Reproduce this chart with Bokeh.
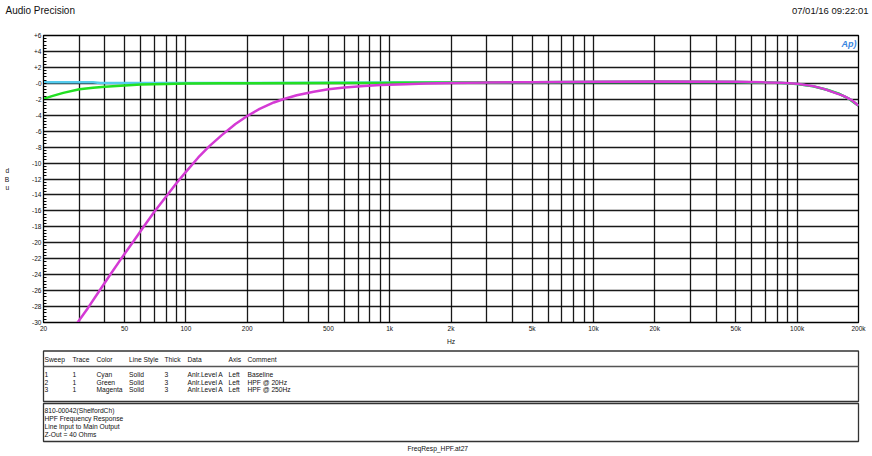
import numpy as np
from bokeh.plotting import figure
from bokeh.models import Range1d, FixedTicker, Label
from bokeh.layouts import column
from bokeh.embed import file_html
from bokeh.resources import INLINE
from bokeh.core.properties import value

FONT = "Liberation Sans"

# ---------------- data ----------------
cyan_freq = [20, 25, 30, 35, 38, 50, 100, 200, 500, 1000, 2000, 5000, 10000, 20000,
             50000, 70000, 85000, 100000, 120000, 140000, 160000, 180000, 200000]
cyan_db = [0.15, 0.15, 0.15, 0.14, 0.05, 0.04, 0.04, 0.05, 0.07, 0.09, 0.12, 0.15, 0.18, 0.2,
           0.18, 0.11, 0.05, -0.07, -0.38, -0.8, -1.3, -1.95, -2.8]

green_freq = [20, 22, 25, 30, 35, 40, 50, 60, 80, 100, 150, 200, 500, 1000, 2000, 5000,
              10000, 20000, 50000, 70000, 85000, 100000, 120000, 140000, 160000, 180000, 200000]
green_db = [-1.95, -1.6, -1.2, -0.75, -0.55, -0.42, -0.27, -0.16, -0.08, -0.03, 0.0, 0.02,
            0.05, 0.08, 0.12, 0.15, 0.18, 0.2, 0.18, 0.11, 0.05, -0.07, -0.38, -0.8, -1.3,
            -1.95, -2.8]

magenta_freq = [29.4, 33, 37, 42, 48.7, 55, 62, 70, 80, 90, 100, 115, 130, 150, 175, 200,
                230, 270, 300, 350, 424, 500, 600, 750, 900, 1200, 1500, 2000, 3000, 5000,
                10000, 20000, 50000, 70000, 83000, 100000, 120000, 135000, 150000, 170000,
                185000, 200000]
magenta_db = [-30.0, -28.2, -26.3, -24.2, -21.8, -19.9, -18.0, -16.1, -14.2, -12.5, -11.1,
              -9.3, -7.9, -6.5, -5.1, -4.1, -3.2, -2.4, -2.0, -1.5, -1.05, -0.75, -0.53,
              -0.34, -0.2, -0.1, -0.03, 0.03, 0.1, 0.15, 0.2, 0.22, 0.2, 0.12, 0.06, -0.05,
              -0.35, -0.7, -1.1, -1.6, -2.1, -2.8]

x_ticks = [20, 50, 100, 200, 500, 1000, 2000, 5000, 10000, 20000, 50000, 100000, 200000]
x_tick_labels = ["20", "50", "100", "200", "500", "1k", "2k", "5k", "10k", "20k", "50k",
                 "100k", "200k"]
grid_freqs = [20, 30, 40, 50, 60, 70, 80, 90, 100, 200, 300, 400, 500, 600, 700, 800, 900,
              1000, 2000, 3000, 4000, 5000, 6000, 7000, 8000, 9000, 10000, 20000, 30000,
              40000, 50000, 60000, 70000, 80000, 90000, 100000, 200000]
y_ticks = [-30, -28, -26, -24, -22, -20, -18, -16, -14, -12, -10, -8, -6, -4, -2, 0, 2, 4, 6]
y_tick_labels = ["-30", "-28", "-26", "-24", "-22", "-20", "-18", "-16", "-14", "-12", "-10",
                 "-8", "-6", "-4", "-2", "-0", "+2", "+4", "+6"]
y_label = "d\nB\nu"
x_label = "Hz"

# legend table
tbl_headers = ["Sweep", "Trace", "Color", "Line Style", "Thick", "Data", "Axis", "Comment"]
tbl_sweep = ["1", "2", "3"]
tbl_trace = ["1", "1", "1"]
tbl_color = ["Cyan", "Green", "Magenta"]
tbl_style = ["Solid", "Solid", "Solid"]
tbl_thick = ["3", "3", "3"]
tbl_data = ["Anlr.Level A", "Anlr.Level A", "Anlr.Level A"]
tbl_axis = ["Left", "Left", "Left"]
tbl_comment = ["Baseline", "HPF @ 20Hz", "HPF @ 250Hz"]
notes = ["810-00042(ShelfordCh)", "HPF Frequency Response", "Line Input to Main Output",
         "Z-Out = 40 Ohms"]
footer = "FreqResp_HPF.at27"
title_text = "Audio Precision"
date_text = "07/01/16 09:22:01"

CYAN = "#55ccee"
GREEN = "#22e022"
MAGENTA = "#d43ad4"
TXT = "#111111"

W = 872
H_HEAD = 20
H_CHART = 328
H_TAB = 456 - H_HEAD - H_CHART
FL, FR, FT, FB = 43, 858, 35, 322          # plot-area edges on the page
XMIN, XMAX, YMIN, YMAX = 20, 200000, -30, 6
DEC = np.log10(XMAX / XMIN)


def no_align(fig):
    try:
        fig.frame_align = False
    except Exception:
        pass


def cx(px):
    # page x pixel -> data x (layout helper for in-frame annotation)
    return XMIN * 10 ** ((px - FL) / (FR - FL) * DEC)


def cy(py):
    # page y pixel -> data y
    return YMAX - (py - FT) / (FB - FT) * (YMAX - YMIN)


# ---------------- header ----------------
h = figure(width=W, height=H_HEAD, x_range=Range1d(0, W), y_range=Range1d(H_HEAD, 0),
           output_backend="svg", toolbar_location=None, min_border=0,
           x_axis_location=None, y_axis_location=None)
h.outline_line_color = None
h.grid.visible = False
h.background_fill_color = "white"
h.border_fill_color = "white"
no_align(h)
h.text(x=[5], y=[10], text=[title_text], text_font=value(FONT), text_font_size="10px",
       text_baseline="middle", text_align="left", text_color=TXT)
h.text(x=[868], y=[10], text=[date_text], text_font=value(FONT), text_font_size="9.5px",
       text_baseline="middle", text_align="right", text_color=TXT)

# ---------------- chart ----------------
p = figure(width=W, height=H_CHART, x_axis_type="log",
           x_range=Range1d(XMIN, XMAX), y_range=Range1d(YMIN, YMAX),
           output_backend="svg", toolbar_location=None,
           min_border_left=FL, min_border_right=W - FR,
           min_border_top=FT - H_HEAD, min_border_bottom=H_HEAD + H_CHART - FB)
p.background_fill_color = "white"
p.border_fill_color = "white"
p.outline_line_color = "black"
p.outline_line_width = 1.3
no_align(p)

p.xaxis.ticker = FixedTicker(ticks=x_ticks)
p.xaxis.major_label_overrides = dict(zip(x_ticks, x_tick_labels))
p.xaxis.major_tick_in = 0
p.xaxis.major_tick_out = 0
p.xaxis.minor_tick_in = 0
p.xaxis.minor_tick_out = 0
p.xaxis.major_label_standoff = 2
p.xaxis.axis_label = x_label
p.xaxis.axis_label_standoff = 3

minor = [round(v, 1) for v in np.arange(-30, 6.001, 0.4) if abs(v - round(v / 2) * 2) > 1e-6]
p.yaxis.ticker = FixedTicker(ticks=y_ticks, minor_ticks=minor)
p.yaxis.major_label_overrides = dict(zip(y_ticks, y_tick_labels))
p.yaxis.major_tick_in = 3
p.yaxis.major_tick_out = 0
p.yaxis.minor_tick_in = 3
p.yaxis.minor_tick_out = 0
p.yaxis.major_label_standoff = 2
p.yaxis.axis_label = y_label
p.yaxis.axis_label_orientation = "horizontal"
p.yaxis.axis_label_standoff = 20
p.yaxis.axis_label_text_line_height = 1.27

for ax in (p.xaxis[0], p.yaxis[0]):
    ax.axis_line_color = "black"
    ax.axis_line_width = 1
    ax.major_tick_line_color = "black"
    ax.minor_tick_line_color = "black"
    ax.major_label_text_font = FONT
    ax.major_label_text_font_size = "6.5px"
    ax.major_label_text_color = TXT
    ax.axis_label_text_font = FONT
    ax.axis_label_text_font_size = "6.7px"
    ax.axis_label_text_font_style = "normal"
    ax.axis_label_text_color = TXT

p.xgrid.ticker = FixedTicker(ticks=grid_freqs)
p.ygrid.ticker = FixedTicker(ticks=y_ticks)
for g in (p.xgrid[0], p.ygrid[0]):
    g.grid_line_color = "black"
    g.grid_line_width = 1.3
    g.grid_line_alpha = 0.9

p.line(cyan_freq, cyan_db, line_color=CYAN, line_width=2.5)
p.line(green_freq, green_db, line_color=GREEN, line_width=2.5)
p.line(magenta_freq, magenta_db, line_color=MAGENTA, line_width=2.5)

p.add_layout(Label(x=cx(856), y=cy(43), text="Ap)", text_font=FONT, text_font_size="9px",
                   text_font_style="bold italic", text_baseline="middle", text_align="right",
                   text_color="#3a86e0"))

# ---------------- legend table ----------------
top_page = H_HEAD + H_CHART
t = figure(width=W, height=H_TAB, x_range=Range1d(0, W),
           y_range=Range1d(top_page + H_TAB, top_page),
           output_backend="svg", toolbar_location=None, min_border=0,
           x_axis_location=None, y_axis_location=None)
t.outline_line_color = None
t.grid.visible = False
t.background_fill_color = "white"
t.border_fill_color = "white"
no_align(t)

BOX_L, BOX_R = 43, 858
t.quad(left=[BOX_L], right=[BOX_R], top=[350.5], bottom=[401], fill_color=None,
       line_color="#333333", line_width=1.3)
t.segment(x0=[BOX_L], x1=[BOX_R], y0=[366], y1=[366], line_color="#555555", line_width=1.6)
t.quad(left=[BOX_L], right=[BOX_R], top=[403], bottom=[441], fill_color=None,
       line_color="#333333", line_width=1.3)

col_x = [44, 72, 96, 128.5, 164, 187, 228, 247]
row_y = [374, 381.7, 389.4]
txt_kw = dict(text_font=value(FONT), text_font_size="6.7px", text_baseline="middle",
              text_align="left", text_color=TXT)
t.text(x=col_x, y=[359] * len(col_x), text=tbl_headers, **txt_kw)
for xx, colvals in zip(col_x, [tbl_sweep, tbl_trace, tbl_color, tbl_style, tbl_thick,
                               tbl_data, tbl_axis, tbl_comment]):
    t.text(x=[xx] * len(colvals), y=row_y, text=colvals, **txt_kw)
t.text(x=[44] * len(notes), y=[410, 418, 426, 434], text=notes, **txt_kw)
t.text(x=[407], y=[447.5], text=[footer], **txt_kw)

layout = column(h, p, t, spacing=0)
open("out.html", "w").write(file_html(layout, INLINE))
